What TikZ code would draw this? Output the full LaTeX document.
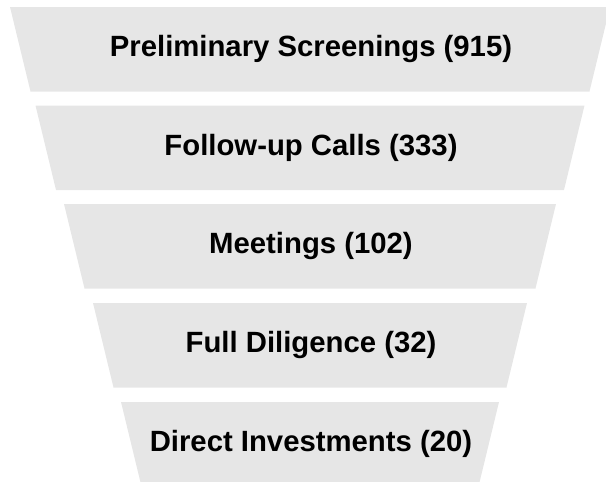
\documentclass[tikz,border=0pt]{standalone}
\usepackage{fontspec}
\setmainfont{Liberation Sans}
\definecolor{bandgray}{HTML}{E6E6E6}
\tikzset{
  band/.style={fill=bandgray, draw=none},
  bandlabel/.style={font=\fontsize{29.3}{34}\selectfont\bfseries, text=black, inner sep=0pt}
}
\begin{document}
\begin{tikzpicture}[x=1pt,y=-1pt]
\useasboundingbox (0,0) rectangle (606,482);
\begin{scope}
\clip (0,0) rectangle (606,482);
% band i: top y, top half width
\foreach \i/\t/\h/\lab in {0/7/300/Preliminary Screenings (915),
                            1/105.5/274.5/Follow-up Calls (333),
                            2/204/246/Meetings (102),
                            3/303/217/Full Diligence (32),
                            4/402/189/Direct Investments (20)}{
  \pgfmathsetmacro{\b}{\t+84.5}
  \pgfmathsetmacro{\hb}{\h-20.5}
  \pgfmathsetmacro{\m}{\t+42.25}
  \fill[band] (310-\h,\t) -- (310+\h,\t) -- (310+\hb,\b) -- (310-\hb,\b) -- cycle;
  \node[bandlabel] (lab\i) at (311,\m) {\lab};
}
\end{scope}
\end{tikzpicture}
\end{document}
